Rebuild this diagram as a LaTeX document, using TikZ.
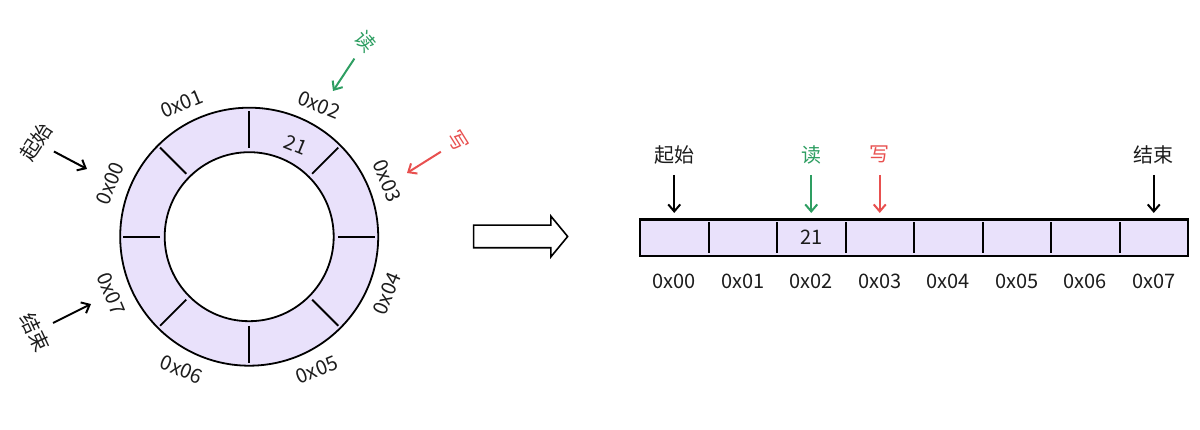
\documentclass[tikz,border=0pt]{standalone}
\usepackage{fontspec}
\usepackage{tikz}
\usetikzlibrary{matrix, positioning, arrows.meta, shapes.arrows}
\newfontfamily\cjk{Noto Sans CJK SC}
\definecolor{lav}{HTML}{E9E1FB}
\definecolor{ink}{HTML}{1C1C1C}
\definecolor{readgreen}{HTML}{2E9E62}
\definecolor{writered}{HTML}{E8504F}

\begin{document}
\begin{tikzpicture}[x=1pt, y=1pt, font=\cjk\fontsize{20}{24}\selectfont, text=ink,
  tag/.style={inner sep=0pt, minimum height=40pt},
  ptr/.style={-{Straight Barb[length=7pt,width=12pt]}, line width=2pt},
  cell/.style={minimum width=68.5pt, minimum height=36.5pt, inner sep=0pt, outer sep=0pt, anchor=center}]
\useasboundingbox (0,0) rectangle (1200,429);

\coordinate (o) at (249.2,192.3);
\draw[line width=1.8pt, fill=lav, even odd rule] (o) circle (129pt) (o) circle (84.5pt);
\foreach \a in {0,45,...,315}
  \draw[line width=1.8pt] ([shift={(\a:89pt)}]o) -- ([shift={(\a:126pt)}]o);
\foreach \i/\a/\r in {0/159/67.5, 1/117/22.5, 2/62/-22.5, 3/22/-67.5, 4/-22.5/67.5, 5/-63/22.5, 6/-117/-22.5, 7/-157.5/-67.5}
  \node[rotate=\r, inner sep=0pt] (q\i) at ([shift={(\a:149pt)}]o) {0x0\i};
\node[rotate=-22.5, inner sep=0pt] (v2) at ([shift={(63:103pt)}]o) {21};

\node[tag, rotate=57] (b1) at (36,287) {起始};
\coordinate (b1q) at (87,260);
\node[tag, rotate=-65] (e1) at (35,97) {结束};
\coordinate (e1q) at (91,125);
\node[tag, rotate=-50, text=readgreen] (r1) at (366,388) {读};
\coordinate (r1q) at (333,338);
\node[tag, rotate=-58, text=writered] (w1) at (458,288) {写};
\coordinate (w1q) at (407,256);
\draw[ptr] (b1) -- (b1q);
\draw[ptr] (e1) -- (e1q);
\draw[ptr, readgreen] (r1) -- (r1q);
\draw[ptr, writered] (w1) -- (w1q);

\node[single arrow, draw, line width=1.6pt, minimum height=94pt, inner sep=0pt, inner ysep=10.5pt,
  single arrow head extend=9pt, single arrow tip angle=101] (goes) at (516,192.5) {};

\matrix (strip) [matrix of nodes, nodes in empty cells, nodes={cell}, column sep=0pt, inner sep=0pt,
  fill=lav, draw, line width=2.6pt] at (914,191.3) {
  & & 21 & & & & & \\
};
\foreach \j in {1,...,7}
  \draw[line width=2pt] ([yshift=-3pt]strip-1-\j.north east) -- ([yshift=3pt]strip-1-\j.south east);
\foreach \i [evaluate=\i as \j using int(\i+1)] in {0,...,7}
  \node[below=17.5pt of strip-1-\j, inner sep=0pt] (p\i) {0x0\i};

\node[tag, above=44.5pt of strip-1-1] (b2) {起始};
\node[tag, text=readgreen, above=44.5pt of strip-1-3] (r2) {读};
\node[tag, text=writered, above=44.5pt of strip-1-4] (w2) {写};
\node[tag, above=44.5pt of strip-1-8] (e2) {结束};
\coordinate[above=6.5pt of strip-1-1] (b2q);
\coordinate[above=6.5pt of strip-1-3] (r2q);
\coordinate[above=6.5pt of strip-1-4] (w2q);
\coordinate[above=6.5pt of strip-1-8] (e2q);
\draw[ptr] (b2) -- (b2q);
\draw[ptr, readgreen] (r2) -- (r2q);
\draw[ptr, writered] (w2) -- (w2q);
\draw[ptr] (e2) -- (e2q);
\end{tikzpicture}
\end{document}
